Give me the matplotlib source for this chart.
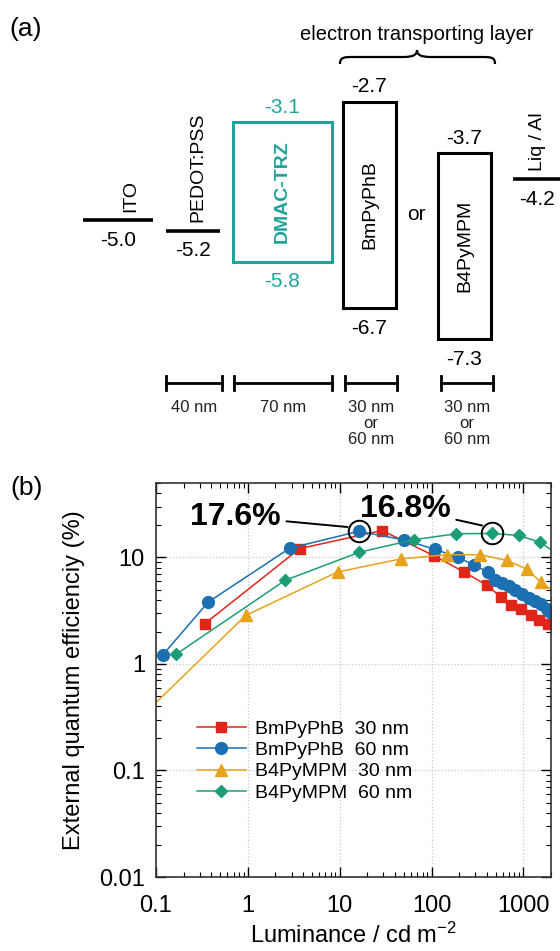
import numpy as np
import matplotlib
matplotlib.use('Agg')
import matplotlib.pyplot as plt
from matplotlib.patches import Rectangle, PathPatch
from matplotlib.path import Path

plt.rcParams['font.family'] = ['Liberation Sans', 'DejaVu Sans']
plt.rcParams['mathtext.default'] = 'regular'

# ---- (a) energy levels in eV ----
single_names = ['ITO', 'PEDOT:PSS', 'Liq / Al']
single_levels = [-5.0, -5.2, -4.2]
box_names = ['DMAC-TRZ', 'BmPyPhB', 'B4PyMPM']
box_lumo = [-3.1, -2.7, -3.7]
box_homo = [-5.8, -6.7, -7.3]
thick_labels = ['40 nm', '70 nm', '30 nm\nor\n60 nm', '30 nm\nor\n60 nm']

# ---- (b) EQE (%) vs luminance (cd m-2) ----
red_L = [0.34, 3.66, 28.9, 106, 226, 404, 570, 730, 940, 1200, 1490, 1840]
red_eqe = [2.39, 12.1, 17.9, 10.4, 7.3, 5.47, 4.25, 3.58, 3.3, 2.86, 2.59, 2.39]
blue_L = [0.118, 0.37, 2.85, 16.1, 50.6, 110, 195, 288, 410, 490, 580, 690,
          820, 970, 1150, 1350, 1540, 1790, 1950]
blue_eqe = [1.21, 3.81, 12.2, 17.6, 14.6, 11.9, 10.0, 8.5, 7.3, 6.2, 5.7, 5.35,
            4.95, 4.55, 4.2, 3.9, 3.65, 3.3, 3.05]
orange_L = [0.08, 0.95, 9.5, 46.6, 146, 341, 656, 1084, 1541, 2300]
orange_eqe = [0.36, 2.86, 7.3, 9.7, 10.6, 10.6, 9.4, 7.8, 5.9, 4.6]
green_L = [0.165, 2.55, 16.4, 65.2, 187, 450, 893, 1515, 2600]
green_eqe = [1.23, 6.1, 11.2, 14.7, 16.7, 16.8, 16.1, 13.9, 10.2]

series_labels = ['BmPyPhB  30 nm', 'BmPyPhB  60 nm', 'B4PyMPM  30 nm', 'B4PyMPM  60 nm']
xticks = [0.1, 1, 10, 100, 1000]
xticklabels = ['0.1', '1', '10', '100', '1000']
yticks = [0.01, 0.1, 1, 10]
yticklabels = ['0.01', '0.1', '1', '10']

teal = '#1fa39a'

fig = plt.figure(figsize=(5.6, 9.51), dpi=100)

# ================= panel (a) =================
PX_E = 51.65  # pixels per eV


def ev(py):
    # layout pixel row -> energy axis value
    return -2.7 - (py - 101.7) / PX_E


ax_a = fig.add_axes([0, 1 - 460 / 951, 1, 460 / 951])
ax_a.set_xlim(0, 560)
ax_a.set_ylim(ev(460), ev(0))
ax_a.axis('off')

single_span = [(83, 153), (166, 220), (513, 570)]
single_lx = [131, 198, 537.5]
single_nx = [118, 192.5, 536.7]
for name, e, (x0, x1), lx, nx in zip(single_names, single_levels, single_span,
                                      single_lx, single_nx):
    ax_a.plot([x0, x1], [e, e], color='k', lw=2.6, solid_capstyle='butt', clip_on=False)
    ax_a.annotate(name, (lx, e), xytext=(0, 6), textcoords='offset points',
                  rotation=90, ha='center', va='bottom', fontsize=14)
    ax_a.annotate(f'{e:.1f}', (nx, e), xytext=(0, -14.5), textcoords='offset points',
                  ha='center', va='center', fontsize=15)

box_span = [(233, 332), (343, 396), (438, 491)]
box_col = [teal, 'k', 'k']
box_w = ['bold', 'normal', 'normal']
for name, lu, ho, (x0, x1), c, w in zip(box_names, box_lumo, box_homo, box_span,
                                        box_col, box_w):
    ax_a.add_patch(Rectangle((x0, ho), x1 - x0, lu - ho, fill=False, ec=c, lw=2.2))
    xc = (x0 + x1) / 2
    ax_a.text(xc, (lu + ho) / 2, name, rotation=90, ha='center', va='center',
              fontsize=14, color=c, fontweight=w)
    ax_a.annotate(f'{lu:.1f}', (xc, lu), xytext=(0, 11), textcoords='offset points',
                  ha='center', va='center', fontsize=15, color=c)
    ax_a.annotate(f'{ho:.1f}', (xc, ho), xytext=(0, -14.5), textcoords='offset points',
                  ha='center', va='center', fontsize=15, color=c)

ax_a.text(416.7, ev(215), 'or', ha='center', va='center', fontsize=15)
ax_a.text(416.7, ev(35), 'electron transporting layer', ha='center', va='center', fontsize=14.5)

# curly brace over the two ETL options
bx0, bx1, bxm = 340, 495, 417
verts = [(bx0, ev(64)), (bx0, ev(57)), (bx0 + 4, ev(57)), (bx0 + 14, ev(57)),
         (bxm - 14, ev(57)),
         (bxm - 4, ev(57)), (bxm, ev(55)), (bxm, ev(50)),
         (bxm, ev(55)), (bxm + 4, ev(57)), (bxm + 14, ev(57)),
         (bx1 - 14, ev(57)),
         (bx1 - 4, ev(57)), (bx1, ev(57)), (bx1, ev(64))]
codes = [Path.MOVETO, Path.CURVE4, Path.CURVE4, Path.CURVE4, Path.LINETO,
         Path.CURVE4, Path.CURVE4, Path.CURVE4, Path.CURVE4, Path.CURVE4, Path.CURVE4,
         Path.LINETO, Path.CURVE4, Path.CURVE4, Path.CURVE4]
ax_a.add_patch(PathPatch(Path(verts, codes), fill=False, lw=1.6, ec='k'))

# layer thickness bars
thick_span = [(166, 221.5), (234, 332), (344.6, 397.4), (441, 492.5)]
for lab, (x0, x1) in zip(thick_labels, thick_span):
    ax_a.plot([x0, x1], [ev(383), ev(383)], color='k', lw=2)
    for xx in (x0, x1):
        ax_a.plot([xx, xx], [ev(376), ev(390)], color='k', lw=2)
    ax_a.text((x0 + x1) / 2, ev(400), lab, ha='center', va='top', fontsize=12,
              linespacing=1.1, color='#222222')

fig.text(26 / 560, 1 - 29 / 951, '(a)', ha='center', va='center', fontsize=19)
fig.text(27 / 560, 1 - 488 / 951, '(b)', ha='center', va='center', fontsize=19)

# ================= panel (b) =================
ax = fig.add_axes([156 / 560, 74 / 951, 395 / 560, 394 / 951])
ax.set_xscale('log')
ax.set_yscale('log')

styles = [('#e0261a', 's', 7.5), ('#1a70b0', 'o', 8.5), ('#e6a21a', '^', 8), ('#1b9e75', 'D', 6.5)]
data = [(red_L, red_eqe), (blue_L, blue_eqe), (orange_L, orange_eqe), (green_L, green_eqe)]
for (L, q), (c, m, ms), lab in zip(data, styles, series_labels):
    ax.plot(L, q, color=c, marker=m, ms=ms, lw=1.1, mec=c, label=lab)

# circled maxima
ax.plot([blue_L[3], green_L[5]], [blue_eqe[3], green_eqe[5]], 'o', ms=15.5,
        mfc='none', mec='k', mew=1.4)
ax.annotate('17.6%', xy=(12.2, 19.3), xytext=(0.736, 24.2), fontsize=23, fontweight='bold',
            ha='center', va='center',
            arrowprops=dict(arrowstyle='-', lw=1.4, color='k', shrinkA=2, shrinkB=0))
ax.annotate('16.8%', xy=(356, 19.95), xytext=(51.9, 28.8), fontsize=23, fontweight='bold',
            ha='center', va='center',
            arrowprops=dict(arrowstyle='-', lw=1.4, color='k', shrinkA=2, shrinkB=0))

ax.set_xlim(0.1, 2000)
ax.set_ylim(0.01, 50)
ax.set_xticks(xticks)
ax.set_xticklabels(xticklabels)
ax.set_yticks(yticks)
ax.set_yticklabels(yticklabels)
ax.tick_params(which='both', direction='in', top=True, right=True, labelsize=17)
ax.tick_params(which='major', length=7, width=1)
ax.tick_params(which='minor', length=3.5, width=0.8)
ax.tick_params(axis='x', pad=13)
ax.tick_params(axis='y', pad=8)
ax.grid(True, which='major', ls=':', color='#c8c8c8', lw=0.9)
for s in ax.spines.values():
    s.set_linewidth(1.2)
    s.set_color('#333333')
ax.set_xlabel('Luminance / cd m$^{-2}$', fontsize=17, labelpad=4)
ax.set_ylabel('External quantum efficienciy (%)', fontsize=17, labelpad=10)

ax.legend(loc='upper left', bbox_to_anchor=(0.104, 0.397), frameon=False, fontsize=14,
          handlelength=2.5, handletextpad=0.5, labelspacing=0.18, borderpad=0,
          borderaxespad=0)

fig.savefig('out.png', dpi=100)
